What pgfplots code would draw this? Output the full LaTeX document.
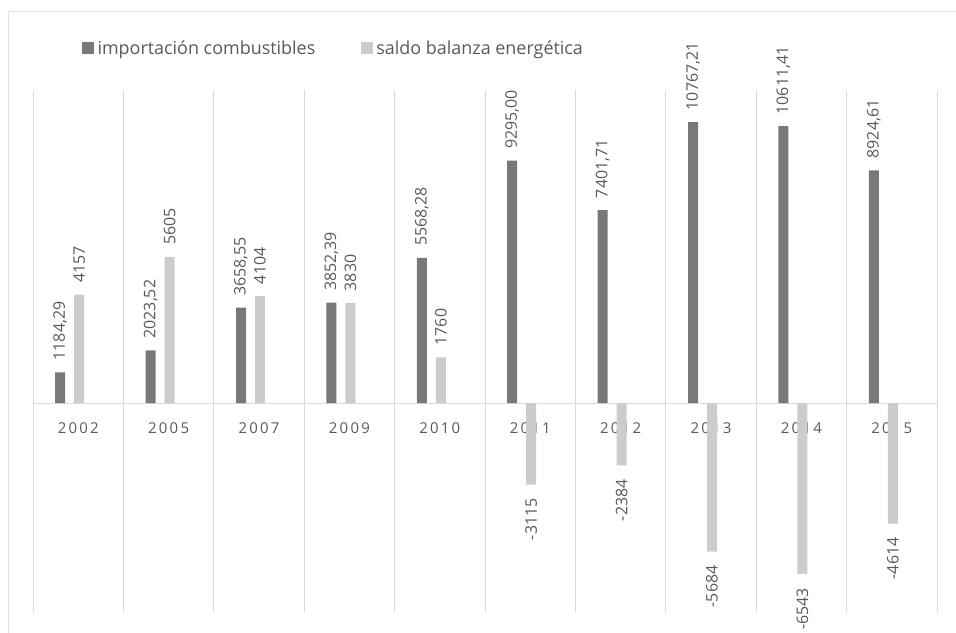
\documentclass[border=0pt]{standalone}
\usepackage{fontspec}
\setmainfont{Open Sans}
\usepackage{graphicx}
\usepackage{pgfplots}
\pgfplotsset{compat=1.18}
\definecolor{darkbar}{RGB}{120,120,120}
\definecolor{lightbar}{RGB}{204,204,204}
\definecolor{gridgray}{RGB}{217,217,217}
\definecolor{txtgray}{RGB}{89,89,89}
\definecolor{framegray}{RGB}{225,225,225}
\begin{document}
\begin{tikzpicture}
\draw[framegray, line width=1bp] (8bp,-5bp) -- (8bp,621bp) -- (960bp,621bp);
\begin{axis}[
  at={(33bp,21bp)}, anchor=south west,
  scale only axis, width=904bp, height=522bp,
  xmin=-0.5, xmax=9.5, ymin=-8000, ymax=12000,
  axis y line=none, axis x line=middle,
  x axis line style={-, draw=gridgray, line width=1.2bp},
  hide obscured x ticks=false,
  xtick={0,...,9},
  xticklabels={2002,2005,2007,2009,2010,2011,2012,2013,2014,2015},
  major tick length=0pt,
  xticklabel style={font=\fontsize{15}{15}\selectfont\addfontfeature{LetterSpace=15}, text=txtgray, yshift=-16bp},
  extra x ticks={-0.5,0.5,1.5,2.5,3.5,4.5,5.5,6.5,7.5,8.5,9.5},
  extra x tick labels={},
  extra x tick style={grid=major, major grid style={draw=gridgray, line width=1bp}},
  clip=false,
  point meta=explicit symbolic,
  legend style={at={(axis description cs:0.054,1.080)}, anchor=west, draw=none, fill=none,
    legend columns=2, font=\fontsize{18}{18}\selectfont, text=txtgray,
    inner sep=0pt, nodes={inner sep=3.5bp},
    /tikz/every even column/.append style={column sep=42bp}},
]
\addplot[ybar, bar width=10bp, bar shift=-18bp, fill=darkbar, draw=none,
  nodes near coords={\rotatebox{90}{\pgfplotspointmeta}},
  every node near coord/.style={anchor=south, inner sep=0pt, outer sep=0pt, xshift=-18bp, yshift=12bp,
    font=\fontsize{16}{16}\selectfont, text=txtgray},
  legend image code/.code={\fill[darkbar] (0bp,-6bp) rectangle (12bp,6bp);}]
  table[meta=label] {
x y label
0 1184.29 {1184,29}
1 2023.52 {2023,52}
2 3658.55 {3658,55}
3 3852.39 {3852,39}
4 5568.28 {5568,28}
5 9295.00 {9295,00}
6 7401.71 {7401,71}
7 10767.21 {10767,21}
8 10611.41 {10611,41}
9 8924.61 {8924,61}
};
\addlegendentry{importación combustibles}
\addplot[ybar, bar width=10bp, bar shift=1bp, fill=lightbar, draw=none,
  nodes near coords={\rotatebox{90}{\pgfplotspointmeta}},
  every node near coord/.style={anchor=south, inner sep=0pt, outer sep=0pt, xshift=1bp, yshift=12bp,
    font=\fontsize{16}{16}\selectfont, text=txtgray},
  legend image code/.code={\fill[lightbar] (0bp,-6bp) rectangle (12bp,6bp);}]
  table[meta=label] {
x y label
0 4157 4157
1 5605 5605
2 4104 4104
3 3830 3830
4 1760 1760
};
\addlegendentry{saldo balanza energética}
\addplot[ybar, bar width=10bp, bar shift=1bp, fill=lightbar, draw=none, forget plot,
  nodes near coords={\rotatebox{90}{\pgfplotspointmeta}},
  every node near coord/.style={anchor=north, inner sep=0pt, outer sep=0pt, xshift=1bp, yshift=-14bp,
    font=\fontsize{16}{16}\selectfont, text=txtgray}]
  table[meta=label] {
x y label
5 -3115 -3115
6 -2384 -2384
7 -5684 -5684
8 -6543 -6543
9 -4614 -4614
};
\end{axis}
\pgfresetboundingbox
\path[use as bounding box] (0,0) rectangle (956bp,633bp);
\end{tikzpicture}
\end{document}
